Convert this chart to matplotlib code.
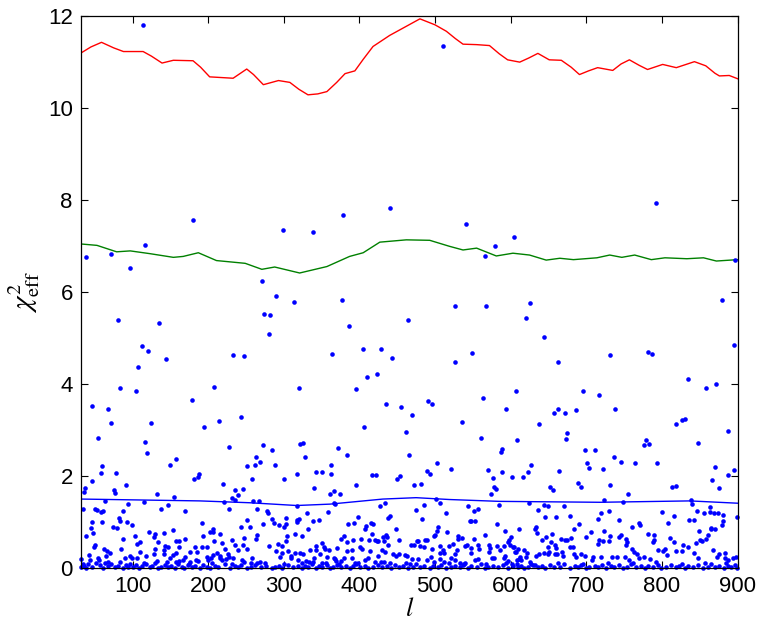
import numpy as np
import matplotlib
matplotlib.use("Agg")
import matplotlib.pyplot as plt

plt.rcParams['font.family'] = ['Liberation Sans', 'DejaVu Sans']
plt.rcParams['mathtext.fontset'] = 'stix'

# smooth curves: (l, chi2_eff)
red_curve = [
    (32, 11.19), (45, 11.32), (59, 11.42), (75, 11.30), (88, 11.22), (114, 11.22),
    (125, 11.12), (139, 10.97), (154, 11.03), (180, 11.02), (190, 10.88), (202, 10.67),
    (233, 10.64), (251, 10.84), (260, 10.72), (273, 10.50), (293, 10.59), (308, 10.55),
    (320, 10.40), (332, 10.28), (345, 10.30), (357, 10.35), (370, 10.55), (381, 10.74),
    (394, 10.80), (405, 11.05), (418, 11.33), (440, 11.57), (460, 11.75), (480, 11.93),
    (500, 11.80), (515, 11.66), (527, 11.50), (537, 11.38), (555, 11.37), (572, 11.35),
    (585, 11.17), (596, 11.04), (612, 10.99), (624, 11.08), (636, 11.18), (651, 11.04),
    (667, 11.03), (680, 10.88), (691, 10.72), (703, 10.80), (715, 10.87), (735, 10.81),
    (746, 10.95), (757, 11.04), (770, 10.92), (781, 10.83), (801, 10.94), (819, 10.87),
    (843, 11.00), (858, 10.91), (870, 10.75), (876, 10.69), (889, 10.70), (900, 10.63),
]
green_curve = [
    (32, 7.04), (53, 7.01), (79, 6.87), (97, 6.89), (123, 6.83), (154, 6.75), (167, 6.77),
    (187, 6.85), (211, 6.68), (249, 6.62), (271, 6.49), (288, 6.54), (321, 6.41),
    (357, 6.55), (387, 6.77), (405, 6.85), (427, 7.08), (462, 7.13), (493, 7.12),
    (519, 6.99), (537, 6.91), (555, 6.95), (581, 6.78), (603, 6.84), (625, 6.80),
    (647, 6.69), (665, 6.73), (683, 6.70), (714, 6.74), (731, 6.80), (747, 6.75),
    (764, 6.80), (786, 6.70), (804, 6.74), (833, 6.72), (855, 6.74), (872, 6.67), (900, 6.70),
]
blue_curve = [
    (32, 1.50), (189, 1.46), (255, 1.42), (317, 1.36), (361, 1.39), (431, 1.50),
    (475, 1.53), (519, 1.49), (585, 1.45), (718, 1.43), (837, 1.46), (900, 1.41),
]

# scattered points, split by height band
pts_high = [
    (114, 11.80), (511, 11.34), (441, 7.83), (792, 7.93),
    (39, 6.75), (72, 6.83), (116, 7.02), (97, 6.52), (180, 7.57), (81, 5.39), (135, 5.33),
    (112, 4.83), (120, 4.72), (144, 4.54), (107, 4.36), (233, 4.63), (248, 4.60), (83, 3.92),
    (104, 3.85), (208, 3.94), (178, 3.65), (47, 3.52), (68, 3.46),
    (299, 7.35), (339, 7.29), (378, 7.68), (541, 7.48), (579, 6.99), (566, 6.78), (271, 6.24),
    (290, 5.91), (313, 5.77), (274, 5.51), (282, 5.49), (281, 5.09), (377, 5.83), (386, 5.25),
    (464, 5.38), (527, 5.70), (568, 5.70), (364, 4.65), (405, 4.75), (428, 4.75), (443, 4.56),
    (526, 4.47), (549, 4.67), (410, 4.16), (423, 4.22), (320, 3.92), (396, 3.89), (435, 3.57),
    (455, 3.49), (491, 3.62), (496, 3.56), (563, 3.70), (594, 3.45),
    (605, 7.20), (897, 6.70), (626, 5.75), (620, 5.43), (879, 5.83), (644, 5.01), (662, 4.47),
    (732, 4.62), (782, 4.70), (787, 4.65), (895, 4.84), (607, 3.85), (695, 3.84), (717, 3.75),
    (835, 4.10), (858, 3.91), (871, 4.00), (663, 3.46), (686, 3.43), (738, 3.46),
]
pts_mid = [
    (71, 3.15), (54, 2.83), (124, 3.16), (117, 2.75), (119, 2.50), (194, 3.06), (214, 3.20),
    (227, 2.62), (244, 3.28), (470, 3.33), (461, 2.96), (406, 3.07), (536, 3.17), (561, 2.82),
    (588, 2.59), (273, 2.67), (285, 2.57), (321, 2.70), (325, 2.72), (372, 2.60),
    (657, 3.38), (672, 3.36), (638, 3.13), (608, 2.78), (674, 2.93), (673, 2.80), (819, 3.13),
    (827, 3.22), (831, 3.23), (888, 2.97), (848, 2.71), (776, 2.67), (779, 2.78), (783, 2.70),
    (698, 2.56), (711, 2.56),
]
pts_low_a = [
    (149, 2.25), (157, 2.36), (181, 1.93), (187, 1.98), (188, 2.04), (220, 1.83), (251, 2.21),
    (258, 1.94), (262, 2.24), (263, 2.41), (268, 2.31), (59, 2.22), (58, 2.07), (47, 1.90),
    (78, 2.07), (37, 1.75), (36, 1.65), (76, 1.70), (77, 1.64), (92, 1.80), (132, 1.61),
    (155, 1.55), (288, 2.25), (300, 1.93), (318, 2.05), (235, 1.70), (246, 1.71), (239, 1.59),
    (236, 1.47), (232, 1.52), (221, 1.43), (259, 1.46), (267, 1.46), (115, 1.43), (63, 1.46),
    (34, 1.28), (51, 1.29), (53, 1.26), (58, 1.22), (61, 1.24), (94, 1.40), (87, 1.25),
    (138, 1.28), (147, 1.37), (169, 1.24), (228, 1.28), (264, 1.29), (278, 1.23), (279, 1.20),
    (303, 1.09), (318, 1.04), (317, 1.01), (300, 0.90), (303, 0.95), (46, 1.01), (45, 0.88),
    (39, 0.70), (48, 0.77), (60, 1.01), (74, 0.89), (80, 0.88), (82, 1.09), (84, 1.03),
    (93, 1.01), (99, 0.93), (88, 0.63), (103, 0.70), (110, 0.57), (106, 0.52), (122, 0.79),
    (130, 0.74), (134, 0.57), (128, 0.67), (142, 0.77), (153, 0.82), (147, 0.46), (142, 0.39),
    (143, 0.48), (158, 0.60), (162, 0.59), (170, 0.63), (192, 0.98), (193, 0.69), (203, 0.78),
    (206, 0.84), (207, 0.78), (208, 0.60), (216, 0.75), (218, 0.55), (232, 0.62), (243, 0.89),
    (255, 0.90), (252, 1.05), (265, 0.73), (273, 0.96), (285, 1.07), (287, 0.97), (294, 0.93),
    (304, 0.69), (303, 0.59), (292, 0.53), (297, 0.48), (280, 0.49), (263, 0.64), (248, 0.65),
    (236, 0.50), (246, 0.51), (252, 0.41), (239, 0.39), (222, 0.41), (226, 0.31), (228, 0.25),
    (212, 0.32), (215, 0.26), (224, 0.20), (192, 0.46), (199, 0.45), (198, 0.24), (200, 0.17),
    (207, 0.28), (204, 0.22), (183, 0.46), (185, 0.36), (176, 0.36), (176, 0.14), (184, 0.17),
    (187, 0.15), (161, 0.45), (158, 0.32), (154, 0.28), (142, 0.30), (130, 0.41), (129, 0.30),
    (133, 0.16), (110, 0.36), (118, 0.26), (106, 0.22), (96, 0.26), (99, 0.23), (90, 0.21),
    (85, 0.41), (62, 0.41), (66, 0.37), (70, 0.33), (65, 0.26), (67, 0.14), (56, 0.17),
    (49, 0.45), (50, 0.50), (43, 0.28), (44, 0.17), (55, 0.21), (32, 0.19), (170, 0.25),
    (167, 0.17), (161, 0.15), (149, 0.23), (157, 0.14), (146, 0.14), (218, 0.17), (216, 0.21),
    (233, 0.21), (245, 0.17), (258, 0.23), (257, 0.11), (265, 0.12), (269, 0.14), (290, 0.38),
    (295, 0.25), (297, 0.32), (306, 0.38), (309, 0.27), (310, 0.21), (315, 0.32), (319, 0.17),
]
pts_low_b = [
    (328, 2.41), (384, 2.45), (465, 2.46), (503, 2.28), (587, 2.53), (343, 2.09), (350, 2.09),
    (362, 2.23), (363, 2.04), (340, 1.75), (395, 1.80), (417, 2.02), (422, 2.02), (450, 1.93),
    (454, 2.00), (472, 1.80), (482, 1.82), (490, 2.10), (494, 2.05), (521, 2.16), (570, 2.14),
    (576, 1.96), (589, 2.08), (602, 1.99), (578, 1.77), (580, 1.71), (574, 1.61), (361, 1.62),
    (366, 1.67), (374, 1.62), (368, 1.39), (367, 1.42), (318, 1.35), (427, 1.35), (434, 1.42),
    (485, 1.38), (501, 1.51), (506, 1.41), (543, 1.36), (557, 1.28), (551, 1.23), (585, 1.38),
    (475, 1.26), (358, 1.21), (331, 1.20), (515, 1.19), (320, 1.07), (315, 0.75), (324, 0.70),
    (332, 0.86), (339, 1.02), (346, 1.04), (398, 1.11), (393, 0.99), (385, 0.96), (409, 0.91),
    (408, 0.86), (415, 0.99), (418, 0.96), (438, 1.09), (441, 1.14), (483, 1.06), (448, 0.85),
    (417, 0.75), (420, 0.62), (435, 0.73), (437, 0.67), (431, 0.67), (433, 0.60), (438, 0.51),
    (423, 0.59), (425, 0.58), (453, 0.62), (402, 0.63), (413, 0.62), (392, 0.62), (383, 0.57),
    (376, 0.64), (380, 0.70), (504, 0.89), (502, 0.80), (500, 0.72), (498, 0.70), (516, 0.78),
    (487, 0.62), (477, 0.59), (531, 0.69), (531, 0.63), (546, 1.02), (553, 1.03), (548, 1.02),
    (551, 0.64), (566, 0.72), (582, 0.96), (593, 0.81), (598, 0.62), (601, 0.67), (597, 0.57),
    (599, 0.50), (571, 0.50), (573, 0.43), (572, 0.36), (582, 0.49), (591, 0.47), (586, 0.39),
    (603, 0.45), (606, 0.36), (610, 0.42), (535, 0.66), (539, 0.49), (542, 0.50), (557, 0.50),
    (558, 0.42), (547, 0.43), (547, 0.32), (519, 0.49), (524, 0.52), (529, 0.39), (526, 0.30),
    (511, 0.39), (512, 0.32), (507, 0.32), (506, 0.49), (496, 0.41), (495, 0.25), (490, 0.17),
    (485, 0.46), (480, 0.47), (476, 0.58), (472, 0.50), (468, 0.51), (489, 0.61), (460, 0.29),
    (463, 0.26), (478, 0.20), (469, 0.19), (461, 0.12), (448, 0.26), (452, 0.31), (444, 0.30),
    (430, 0.39), (434, 0.36), (424, 0.27), (420, 0.14), (429, 0.14), (433, 0.14), (414, 0.38),
    (411, 0.21), (408, 0.17), (401, 0.46), (404, 0.41), (390, 0.39), (384, 0.37), (370, 0.44),
    (368, 0.19), (390, 0.23), (394, 0.12), (379, 0.22), (376, 0.16), (355, 0.42), (360, 0.39),
    (357, 0.25), (351, 0.54), (353, 0.46), (343, 0.47), (342, 0.39), (335, 0.40), (340, 0.23),
    (348, 0.30), (321, 0.32), (325, 0.31), (330, 0.16), (333, 0.14), (324, 0.12), (366, 0.21),
    (369, 0.16), (350, 0.12), (356, 0.12), (507, 0.20), (499, 0.14), (519, 0.12), (521, 0.22),
    (526, 0.17), (533, 0.12), (538, 0.08), (553, 0.17), (557, 0.19), (575, 0.22), (578, 0.22),
    (592, 0.27), (591, 0.22), (597, 0.15), (602, 0.09), (608, 0.17), (611, 0.20),
]
pts_low_c = [
    (736, 2.41), (746, 2.30), (765, 2.28), (793, 2.28), (627, 2.25), (623, 2.09), (616, 1.98),
    (701, 2.28), (704, 2.17), (722, 2.16), (664, 2.11), (870, 2.20), (866, 1.91), (875, 1.75),
    (888, 2.03), (895, 2.13), (689, 1.84), (693, 1.76), (652, 1.76), (656, 1.70), (731, 1.80),
    (755, 1.60), (814, 1.76), (818, 1.78), (723, 1.49), (748, 1.43), (839, 1.48), (840, 1.39),
    (624, 1.41), (644, 1.37), (649, 1.36), (671, 1.36), (636, 1.27), (646, 1.12), (660, 1.12),
    (678, 1.13), (730, 1.23), (719, 1.19), (716, 1.07), (743, 1.04), (691, 0.96), (770, 0.99),
    (771, 0.94), (760, 0.89), (800, 1.21), (816, 1.13), (808, 0.98), (836, 1.05), (843, 1.04),
    (847, 1.24), (856, 1.19), (863, 1.21), (869, 1.20), (874, 1.20), (864, 1.32), (881, 1.15),
    (881, 1.02), (879, 0.94), (899, 1.10), (865, 0.88), (870, 0.86), (634, 0.90), (632, 0.85),
    (635, 0.77), (611, 0.84), (655, 0.74), (684, 0.85), (706, 0.79), (724, 0.81), (642, 0.61),
    (647, 0.67), (653, 0.57), (667, 0.63), (672, 0.61), (675, 0.61), (680, 0.66), (678, 0.46),
    (682, 0.46), (658, 0.50), (660, 0.43), (650, 0.46), (651, 0.36), (661, 0.30), (658, 0.30),
    (649, 0.31), (700, 0.67), (717, 0.61), (715, 0.52), (722, 0.58), (730, 0.59), (731, 0.70),
    (743, 0.67), (746, 0.72), (752, 0.64), (754, 0.56), (753, 0.50), (781, 0.75), (790, 0.72),
    (789, 0.61), (788, 0.56), (811, 0.66), (816, 0.57), (828, 0.50), (834, 0.46), (845, 0.55),
    (851, 0.62), (853, 0.59), (858, 0.64), (861, 0.72), (849, 0.81), (865, 0.84), (867, 0.39),
    (884, 0.32), (826, 0.37), (818, 0.38), (795, 0.39), (801, 0.38), (804, 0.41), (807, 0.28),
    (784, 0.20), (776, 0.25), (770, 0.23), (760, 0.42), (763, 0.36), (767, 0.30), (751, 0.25),
    (757, 0.18), (740, 0.25), (734, 0.25), (719, 0.25), (709, 0.25), (708, 0.17), (693, 0.30),
    (698, 0.26), (686, 0.24), (684, 0.30), (668, 0.36), (669, 0.26), (644, 0.32), (638, 0.30),
    (634, 0.26), (618, 0.39), (622, 0.32), (620, 0.25), (605, 0.46), (607, 0.36), (612, 0.25),
    (614, 0.17), (608, 0.10), (627, 0.10), (632, 0.07), (843, 0.32), (848, 0.21), (873, 0.25),
    (876, 0.30), (883, 0.21), (887, 0.17), (898, 0.25), (894, 0.21),
]
# points hugging zero
pts_floor = [
    (32, 0.02), (36, 0.05), (39, 0.01), (41, 0.08), (47, 0.03), (57, 0.06), (61, 0.01),
    (68, 0.04), (72, 0.09), (77, 0.02), (81, 0.05), (88, 0.01), (91, 0.07), (94, 0.03),
    (101, 0.02), (105, 0.06), (109, 0.01), (112, 0.04), (118, 0.08), (123, 0.02), (126, 0.05),
    (134, 0.01), (138, 0.03), (143, 0.07), (147, 0.02), (151, 0.05), (156, 0.01), (160, 0.09),
    (165, 0.03), (168, 0.01), (173, 0.06), (178, 0.02), (182, 0.04), (189, 0.01), (193, 0.07),
    (198, 0.03), (202, 0.01), (209, 0.05), (213, 0.02), (222, 0.08), (229, 0.01), (235, 0.04),
    (239, 0.02), (244, 0.06), (251, 0.01), (257, 0.03), (262, 0.07), (270, 0.02), (277, 0.05),
    (284, 0.00), (288, 0.03), (294, 0.04), (297, 0.01), (306, 0.06), (312, 0.02), (319, 0.04),
    (324, 0.01), (328, 0.05), (332, 0.02), (337, 0.08), (342, 0.01), (346, 0.04), (350, 0.02),
    (357, 0.06), (361, 0.01), (365, 0.03), (371, 0.07), (376, 0.02), (382, 0.05), (387, 0.01),
    (392, 0.04), (396, 0.09), (401, 0.02), (407, 0.05), (412, 0.01), (418, 0.03), (425, 0.07),
    (430, 0.02), (436, 0.04), (442, 0.01), (447, 0.06), (453, 0.02), (458, 0.05), (464, 0.01),
    (471, 0.03), (475, 0.08), (480, 0.02), (486, 0.05), (493, 0.01), (497, 0.04), (504, 0.02),
    (508, 0.07), (515, 0.01), (521, 0.03), (526, 0.05), (533, 0.02), (537, 0.06), (544, 0.01),
    (548, 0.04), (555, 0.02), (561, 0.08), (566, 0.01), (570, 0.03), (577, 0.05), (583, 0.02),
    (590, 0.06), (597, 0.01), (603, 0.04), (610, 0.02), (614, 0.05), (618, 0.01), (623, 0.03),
    (630, 0.07), (636, 0.02), (641, 0.04), (645, 0.01), (652, 0.06), (657, 0.02), (665, 0.03),
    (671, 0.08), (678, 0.01), (685, 0.04), (689, 0.02), (693, 0.06), (700, 0.01), (704, 0.03),
    (711, 0.05), (715, 0.02), (721, 0.07), (726, 0.01), (733, 0.04), (737, 0.02), (743, 0.06),
    (748, 0.01), (754, 0.03), (759, 0.08), (766, 0.02), (772, 0.05), (777, 0.01), (781, 0.04),
    (788, 0.02), (795, 0.06), (799, 0.01), (806, 0.03), (812, 0.07), (819, 0.02), (823, 0.05),
    (830, 0.01), (834, 0.04), (841, 0.02), (848, 0.06), (854, 0.01), (861, 0.03), (865, 0.08),
    (870, 0.02), (876, 0.05), (882, 0.01), (887, 0.04), (892, 0.02), (896, 0.06), (899, 0.01),
    (34, 0.10), (52, 0.12), (64, 0.11), (83, 0.13), (97, 0.10), (115, 0.12), (130, 0.11),
    (175, 0.10), (205, 0.12), (232, 0.10), (248, 0.13), (275, 0.11), (300, 0.10), (339, 0.13),
    (373, 0.10), (398, 0.11), (440, 0.12), (467, 0.10), (512, 0.13), (540, 0.11), (568, 0.10),
    (594, 0.12), (625, 0.13), (662, 0.11), (696, 0.10), (729, 0.12), (762, 0.11), (792, 0.13),
    (827, 0.10), (857, 0.12), (885, 0.11),
]

fig = plt.figure(figsize=(7.58, 6.25), dpi=100)
ax = fig.add_axes([0.107, 0.091, 0.866, 0.884])

for curve, col in [(red_curve, '#ff0000'), (green_curve, '#008000'), (blue_curve, '#0000ff')]:
    arr = np.array(curve)
    ax.plot(arr[:, 0], arr[:, 1], color=col, linewidth=1.0)

pts = np.array(pts_high + pts_mid + pts_low_a + pts_low_b + pts_low_c + pts_floor)
ax.plot(pts[:, 0], pts[:, 1], linestyle='none', marker='o', markersize=3.3,
        markerfacecolor='#0000ff', markeredgewidth=0, clip_on=False)

ax.set_xlim(32, 900)
ax.set_ylim(0, 12)
ax.set_xticks(range(100, 901, 100))
ax.set_yticks(range(0, 13, 2))
ax.tick_params(direction='in', length=5, width=0.8, labelsize=16, top=True, right=True, pad=6)
for sp in ax.spines.values():
    sp.set_linewidth(0.9)

ax.set_ylabel(r'$\chi^2_{\mathrm{eff}}$', fontsize=21, labelpad=4)
ax.set_xlabel(r'$l$', fontsize=19, labelpad=0)

fig.savefig('out.png', dpi=100)
